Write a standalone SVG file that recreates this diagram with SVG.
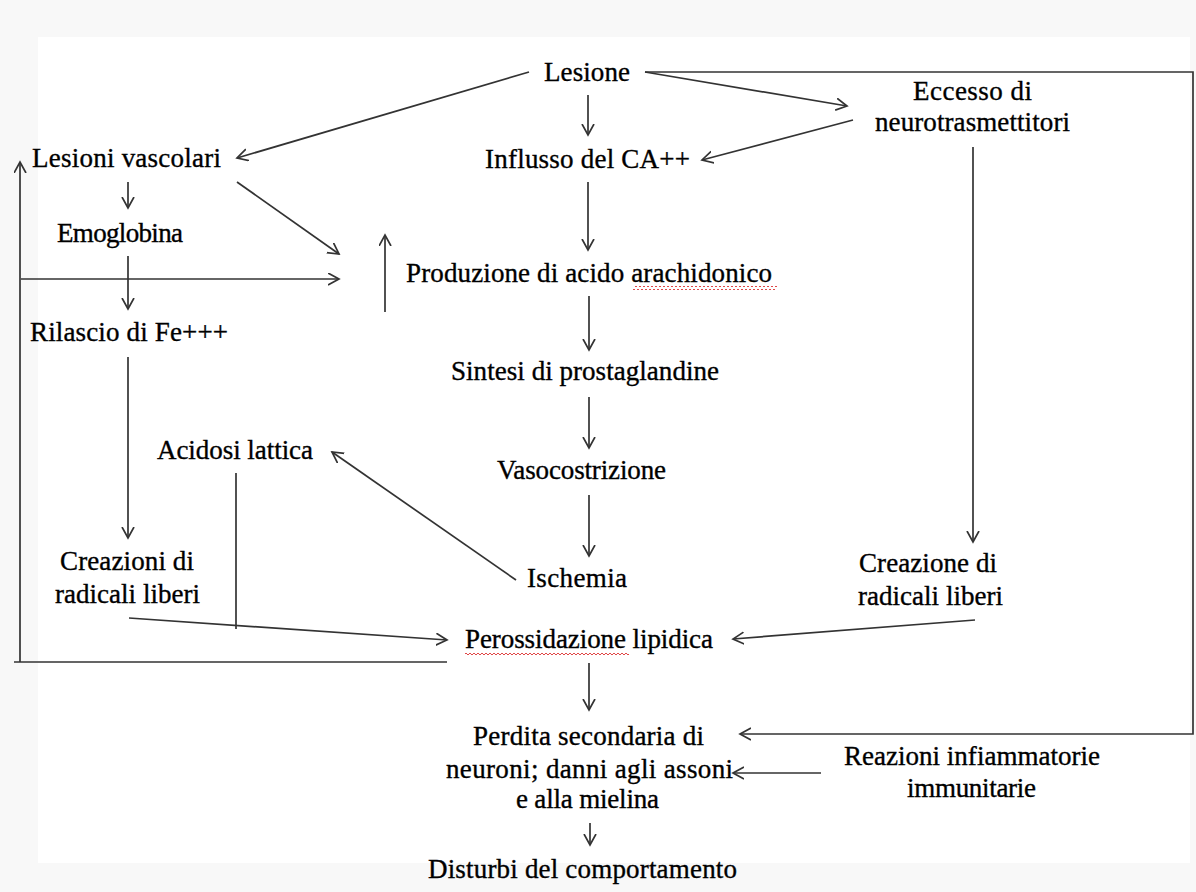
<svg xmlns="http://www.w3.org/2000/svg" width="1196" height="892" viewBox="0 0 1196 892">
<style>
text{font-family:"Liberation Serif","Times New Roman",serif;font-size:27px;fill:#000;stroke:#000;stroke-width:0.35;text-anchor:start}
.c line,.c polyline{stroke:#333;stroke-width:1.7;fill:none}
.a{marker-end:url(#ah)}
</style>
<defs>
<marker id="ah" markerUnits="userSpaceOnUse" markerWidth="14" markerHeight="14" refX="11" refY="6.5" orient="auto">
<path d="M0,0.5 L11,6.5 L0,12.5" fill="none" stroke="#333" stroke-width="1.7"/>
</marker>
<pattern id="sq" patternUnits="userSpaceOnUse" x="0" y="0" width="4" height="4">
<path d="M0,3 L2,1 L4,3" fill="none" stroke="#e04848" stroke-width="1"/>
</pattern>
</defs>
<rect x="0" y="0" width="1196" height="892" fill="#f8f8f8"/>
<rect x="38" y="37" width="1152" height="826" fill="#ffffff"/>

<g class="c" id="connectors">
<line class="a" x1="529" y1="72" x2="237" y2="158"/>
<line class="a" x1="588" y1="95" x2="588" y2="135"/>
<line class="a" x1="645" y1="72" x2="847" y2="106"/>
<polyline class="a" points="645,72 1193,72 1193,734 740,734"/>
<line class="a" x1="853" y1="120" x2="702" y2="160"/>
<line class="a" x1="973" y1="147" x2="973" y2="542"/>
<line class="a" x1="128" y1="182" x2="128" y2="208"/>
<line class="a" x1="237" y1="182" x2="339" y2="254"/>
<line class="a" x1="128" y1="256" x2="128" y2="309"/>
<line class="a" x1="21" y1="279" x2="339" y2="279"/>
<polyline class="a" points="447,662 14,662 20,662 20,162"/>
<line class="a" x1="385" y1="312" x2="385" y2="235"/>
<line class="a" x1="588" y1="182" x2="588" y2="250"/>
<line class="a" x1="589" y1="296" x2="589" y2="350"/>
<line class="a" x1="589" y1="397" x2="589" y2="448"/>
<line class="a" x1="589" y1="495" x2="589" y2="556"/>
<line class="a" x1="516" y1="580" x2="332" y2="452"/>
<line x1="236" y1="473" x2="236" y2="629"/>
<line class="a" x1="129" y1="618" x2="447" y2="640"/>
<line class="a" x1="128" y1="357" x2="128" y2="538"/>
<line class="a" x1="975" y1="620" x2="733" y2="639"/>
<line class="a" x1="589" y1="663" x2="589" y2="710"/>
<line class="a" x1="821" y1="773" x2="733" y2="773"/>
<line class="a" x1="590" y1="823" x2="590" y2="845"/>
</g>

<g id="lesione"><text x="544" y="81" textLength="86">Lesione</text></g>
<g id="eccesso"><text x="913" y="100" textLength="119">Eccesso di</text><text x="875" y="131" textLength="195">neurotrasmettitori</text></g>
<g id="lesioni-vascolari"><text x="32" y="167" textLength="189">Lesioni vascolari</text></g>
<g id="influsso"><text x="485" y="168" textLength="205">Influsso del CA++</text></g>
<g id="emoglobina"><text x="57" y="242" textLength="126">Emoglobina</text></g>
<g id="produzione"><text x="406" y="282" textLength="366">Produzione di acido arachidonico</text>
<rect x="633" y="286" width="144" height="4" fill="url(#sq)"/></g>
<g id="rilascio"><text x="30" y="341" textLength="198">Rilascio di Fe+++</text></g>
<g id="sintesi"><text x="451" y="380" textLength="268">Sintesi di prostaglandine</text></g>
<g id="acidosi"><text x="157" y="459" textLength="156">Acidosi lattica</text></g>
<g id="vasocostrizione"><text x="497" y="479" textLength="169">Vasocostrizione</text></g>
<g id="creazioni-sx"><text x="60" y="570" textLength="134">Creazioni di</text><text x="55" y="603" textLength="145">radicali liberi</text></g>
<g id="ischemia"><text x="527" y="587" textLength="100">Ischemia</text></g>
<g id="creazione-dx"><text x="859" y="572" textLength="138">Creazione di</text><text x="858" y="605" textLength="145">radicali liberi</text></g>
<g id="perossidazione"><text x="465" y="648" textLength="248">Perossidazione lipidica</text>
<rect x="465" y="652" width="164" height="4" fill="url(#sq)"/></g>
<g id="perdita"><text x="473" y="745" textLength="231">Perdita secondaria di</text><text x="446" y="778" textLength="287">neuroni; danni agli assoni</text><text x="516" y="808" textLength="143">e alla mielina</text></g>
<g id="reazioni"><text x="844" y="765" textLength="256">Reazioni infiammatorie</text><text x="907" y="797" textLength="129">immunitarie</text></g>
<g id="disturbi"><text x="428" y="878" textLength="309">Disturbi del comportamento</text></g>
</svg>
